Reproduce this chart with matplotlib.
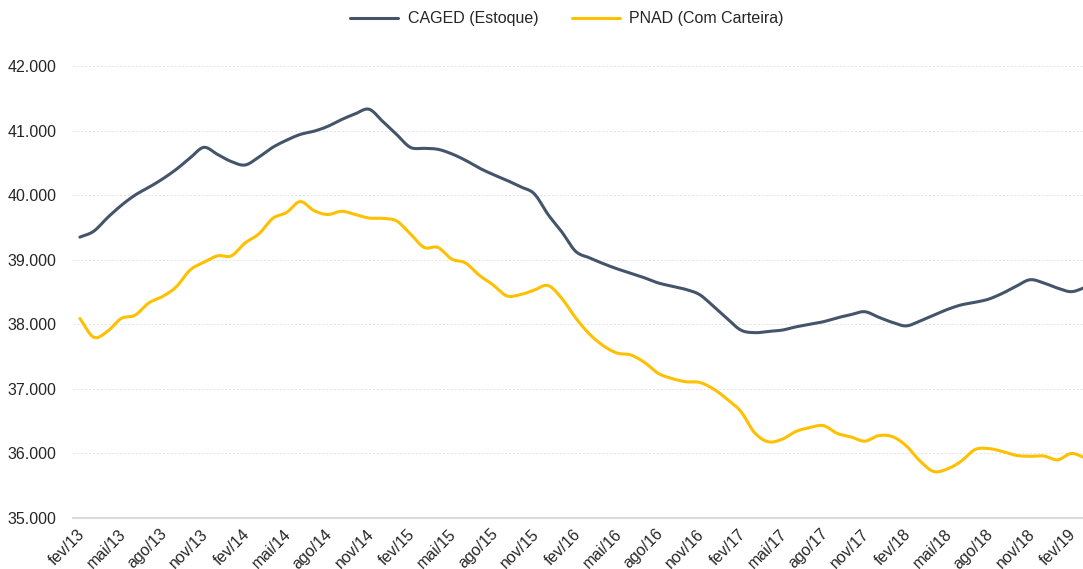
import matplotlib
matplotlib.use("Agg")
import matplotlib.pyplot as plt
import matplotlib.transforms as mtransforms
import numpy as np
from matplotlib.ticker import FuncFormatter


MESES = ["jan", "fev", "mar", "abr", "mai", "jun", "jul", "ago", "set", "out", "nov", "dez"]

# monthly, fev/13 .. mar/19 (thousands of workers)
CAGED = [
    39350, 39440, 39650, 39840, 40000, 40120, 40250, 40400, 40575, 40740, 40630, 40520,
    40467, 40590, 40740, 40850, 40940, 40990, 41065, 41170, 41260, 41330, 41140, 40940,
    40740, 40725, 40710, 40640, 40540, 40420, 40320, 40230, 40130, 40020, 39700, 39430,
    39130, 39030, 38940, 38860, 38790, 38720, 38640, 38590, 38540, 38460, 38280, 38090,
    37910, 37870, 37890, 37910, 37960, 38000, 38040, 38100, 38150, 38195, 38110, 38030,
    37975, 38050, 38140, 38230, 38300, 38340, 38390, 38480, 38590, 38690, 38640, 38560,
    38505, 38570,
]
PNAD = [
    38090, 37800, 37890, 38090, 38140, 38330, 38430, 38580, 38840, 38960, 39060, 39060,
    39260, 39400, 39640, 39730, 39900, 39760, 39700, 39750, 39700, 39645, 39640, 39600,
    39400, 39190, 39190, 39010, 38950, 38760, 38610, 38440, 38460, 38530, 38600, 38400,
    38100, 37850, 37670, 37555, 37525, 37410, 37240, 37160, 37110, 37100, 37000, 36840,
    36650, 36320, 36180, 36220, 36340, 36400, 36430, 36310, 36255, 36190, 36275, 36260,
    36120, 35885, 35720, 35760, 35880, 36060, 36075, 36030, 35970, 35955, 35960, 35900,
    36000, 35930,
]
SERIES = ["CAGED (Estoque)", "PNAD (Com Carteira)"]
COLORS = ["#44546A", "#FFC000"]


def _months(n: int, start_month: int = 1, start_year: int = 13) -> list[str]:
    out = []
    for k in range(n):
        m = start_month + k
        out.append(f"{MESES[m % 12]}/{start_year + m // 12}")
    return out


def _smooth(y, steps: int = 12):
    # Catmull-Rom curve through the monthly points (Excel-like smoothed line)
    p = np.asarray(y, dtype=float)
    p = np.concatenate([[2 * p[0] - p[1]], p, [2 * p[-1] - p[-2]]])
    t = np.linspace(0, 1, steps, endpoint=False)
    xs, ys = [], []
    for i in range(1, len(p) - 2):
        p0, p1, p2, p3 = p[i - 1], p[i], p[i + 1], p[i + 2]
        seg = 0.5 * (2 * p1 + (-p0 + p2) * t + (2 * p0 - 5 * p1 + 4 * p2 - p3) * t ** 2
                     + (-p0 + 3 * p1 - 3 * p2 + p3) * t ** 3)
        xs.append(i - 1 + t)
        ys.append(seg)
    xs.append([len(y) - 1])
    ys.append([y[-1]])
    return np.concatenate(xs), np.concatenate(ys)


labels = _months(len(CAGED))

plt.rcParams["font.family"] = ["Liberation Sans", "DejaVu Sans"]
fig = plt.figure(figsize=(10.83, 5.69), dpi=100)
ax = fig.add_axes([73 / 1083, 51 / 569, 1019 / 1083, 452 / 569])

for name, values, color in zip(SERIES, [CAGED, PNAD], COLORS):
    xs, ys = _smooth(values)
    ax.plot(xs, ys, color=color, linewidth=2.2, label=name, solid_capstyle="round")

ax.set_xlim(-0.5, len(CAGED) - 0.5)
ax.set_ylim(35000, 42000)
ax.set_yticks(np.arange(35000, 42001, 1000))
ax.yaxis.set_major_formatter(FuncFormatter(lambda v, _p: f"{v:,.0f}".replace(",", ".")))
ax.grid(axis="y", color="#e3e3e3", linestyle=(0, (2, 2)), linewidth=0.7)
ax.set_axisbelow(True)

tick_pos = list(range(0, len(CAGED), 3))
ax.set_xticks(tick_pos)
ax.set_xticklabels([labels[i] for i in tick_pos], rotation=45, ha="right", va="top",
                   rotation_mode="anchor")
ax.tick_params(axis="both", length=0, labelsize=11.5, colors="#262626")
ax.tick_params(axis="y", pad=12)
ax.tick_params(axis="x", pad=6)
shift = mtransforms.ScaledTranslation(-3 / 100, 0, fig.dpi_scale_trans)
for lab in ax.get_xticklabels():
    lab.set_transform(lab.get_transform() + shift)

for side in ["top", "right", "left"]:
    ax.spines[side].set_visible(False)
ax.spines["bottom"].set_color("#d9d9d9")
ax.spines["bottom"].set_linewidth(1.5)

fig.legend(loc="center", bbox_to_anchor=(567 / 1083, 1 - 19 / 569), ncol=2, frameon=False,
           fontsize=11.5, handlelength=3.0, handletextpad=0.6, columnspacing=2.1,
           labelcolor="#262626")

fig.savefig("out.png", dpi=100)
